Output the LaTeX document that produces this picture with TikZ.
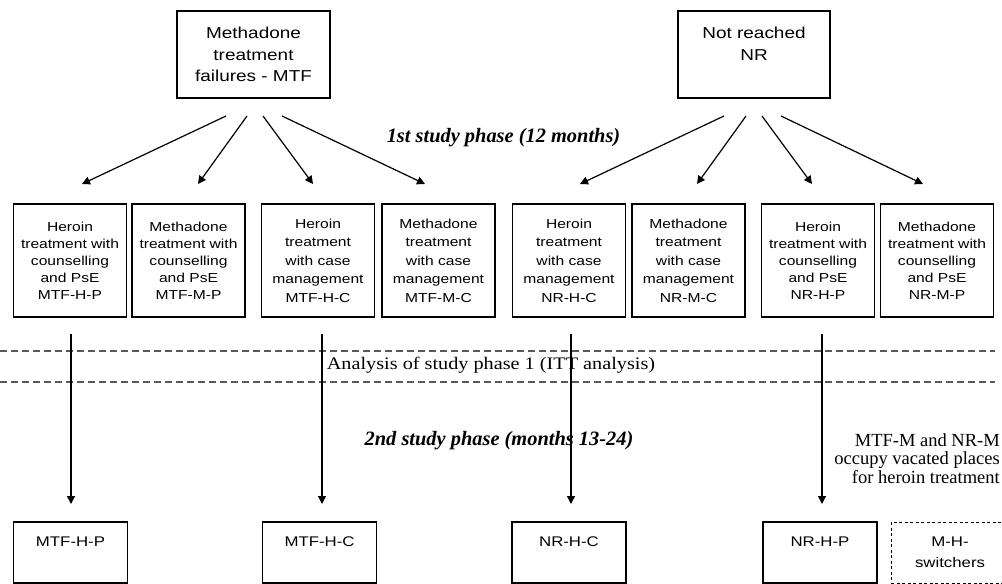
\documentclass[tikz,border=0pt]{standalone}
\usepackage{fontspec}
\setmainfont{Liberation Serif}
\newfontfamily\bxfont[FakeStretch=1.2]{Liberation Sans}
\newfontfamily\srfont[FakeStretch=1.15]{Liberation Serif}
\usetikzlibrary{arrows.meta}
\begin{document}
\begin{tikzpicture}[x=1pt,y=-1pt,
  box/.style={draw, line width=1.1pt, inner sep=0pt, align=center},
  topbox/.style={box, minimum width=153pt, minimum height=87pt,
    font=\bxfont\fontsize{15.8}{21.7}\selectfont},
  midbox/.style={box, minimum width=113pt, minimum height=113pt,
    font=\bxfont\fontsize{13}{17}\selectfont},
  casebox/.style={midbox, font=\bxfont\fontsize{13}{18.5}\selectfont},
  botbox/.style={box, minimum width=114pt, minimum height=61pt,
    font=\bxfont\fontsize{14}{21}\selectfont},
  arr/.style={line width=1.2pt, -{Triangle[length=8pt,width=8pt]}},
  sep/.style={draw=black!65, line width=1.4pt, dash pattern=on 7pt off 4pt},
  phase/.style={font=\bfseries\itshape\fontsize{20.4}{24}\selectfont},
]
\useasboundingbox (0,0) rectangle (1002,584);
\clip (0,0) rectangle (1002,584);

% top boxes
\node[topbox] (mtf) at (253.5,54.5) {Methadone\\treatment\\failures - MTF};
\node[topbox, minimum width=152pt] (nr) at (754,54.5) {Not reached\\NR\\\mbox{}};

% middle boxes
\node[midbox]  (m1) at (70,260.5)    {Heroin\\treatment with\\counselling\\and PsE\\MTF-H-P};
\node[midbox]  (m2) at (188.5,260.5) {Methadone\\treatment with\\counselling\\and PsE\\MTF-M-P};
\node[casebox] (m3) at (318,260.5)   {Heroin\\treatment\\with case\\management\\MTF-H-C};
\node[casebox] (m4) at (438.5,260.5) {Methadone\\treatment\\with case\\management\\MTF-M-C};
\node[casebox] (m5) at (569,260.5)   {Heroin\\treatment\\with case\\management\\NR-H-C};
\node[casebox] (m6) at (688.5,260.5) {Methadone\\treatment\\with case\\management\\NR-M-C};
\node[midbox]  (m7) at (818,260.5)   {Heroin\\treatment with\\counselling\\and PsE\\NR-H-P};
\node[midbox]  (m8) at (937,260.5)   {Methadone\\treatment with\\counselling\\and PsE\\NR-M-P};

% bottom boxes
\node[botbox] (b1) at (70.5,552.5)  {MTF-H-P\\\mbox{}};
\node[botbox] (b2) at (319.5,552.5) {MTF-H-C\\\mbox{}};
\node[botbox] (b3) at (569,552.5)   {NR-H-C\\\mbox{}};
\node[botbox] (b4) at (820,552.5)   {NR-H-P\\\mbox{}};
\node[botbox, minimum width=118pt, line width=0.9pt, dash pattern=on 3pt off 2.5pt,
  text width=110pt] (b5) at (950,552.5) {M-H-\\switchers};

% texts
\node[phase] (t1) at (503.5,138) {1st study phase (12 months)};
\node[font=\srfont\fontsize{17.6}{20}\selectfont] (t2) at (491,365)
  {Analysis of study phase 1 (ITT analysis)};
\node[phase] (t3) at (499,441) {2nd study phase (months 13-24)};
\node[anchor=east, align=right, inner sep=0pt,
  font=\fontsize{18.5}{18.5}\selectfont] (t4) at (1000,458.5)
  {MTF-M and NR-M\\occupy vacated places\\for heroin treatment};

% separator lines
\coordinate (sl1) at (0,351);  \coordinate (sr1) at (995,351);
\coordinate (sl2) at (0,382);  \coordinate (sr2) at (995,382);
\draw[sep] (sl1) -- (sr1);
\draw[sep] (sl2) -- (sr2);

% top arrows: MTF
\foreach \i/\sx/\ex in {1/226/82, 2/247/198, 3/263/313, 4/282/425}{
  \coordinate (ms\i) at (\sx,116);
  \coordinate (me\i) at (\ex,184);
  \draw[arr] (ms\i) -- (me\i);
}
% top arrows: NR
\foreach \i/\sx/\ex in {1/724/580, 2/746/697, 3/762/812, 4/781/923}{
  \coordinate (ns\i) at (\sx,116);
  \coordinate (ne\i) at (\ex,184);
  \draw[arr] (ns\i) -- (ne\i);
}

% vertical arrows
\foreach \i/\x in {1/71, 2/322, 3/571, 4/822}{
  \coordinate (vs\i) at (\x,334);
  \coordinate (ve\i) at (\x,504);
  \draw[arr] (vs\i) -- (ve\i);
}
\end{tikzpicture}
\end{document}
